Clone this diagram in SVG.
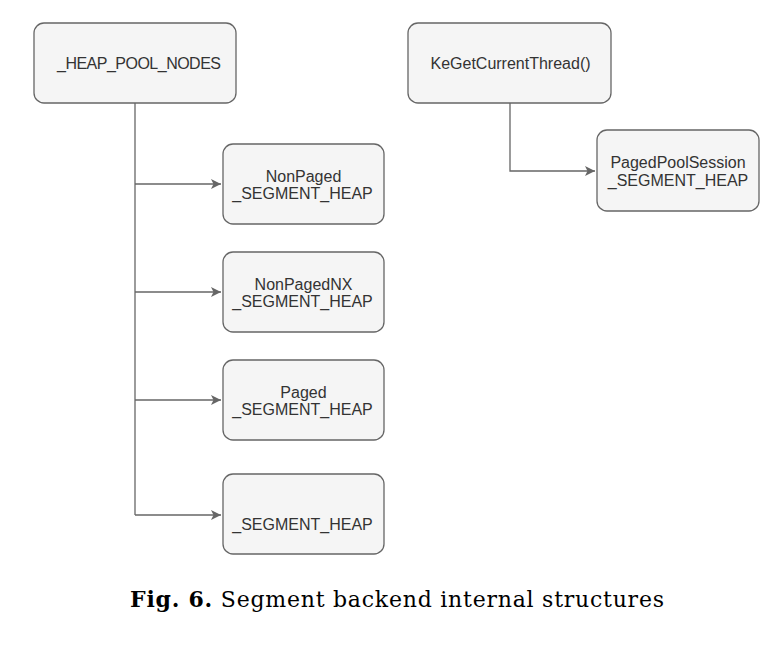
<svg xmlns="http://www.w3.org/2000/svg" width="781" height="660" viewBox="0 0 781 660">
<style>
.box{fill:#f5f5f5;stroke:#666;stroke-width:1.3}
.lbl{font-family:"Liberation Sans",Arial,sans-serif;font-size:16px;fill:#333;text-anchor:middle}
.con{fill:none;stroke:#666;stroke-width:1.3}
.cap{font-family:"DejaVu Serif","Liberation Serif",serif;font-size:22px;fill:#000}
</style>
<defs>
<marker id="ah" viewBox="0 0 10 10" refX="10" refY="5" markerWidth="10" markerHeight="10" markerUnits="userSpaceOnUse" orient="auto">
<path d="M0,0 L10,5 L0,10 L2.5,5 Z" fill="#666"/>
</marker>
</defs>
<rect width="781" height="660" fill="#fff"/>
<g id="connectors">
<path class="con" d="M135,103 V515"/>
<path class="con" d="M135,184 H221" marker-end="url(#ah)"/>
<path class="con" d="M135,292 H221" marker-end="url(#ah)"/>
<path class="con" d="M135,400 H221" marker-end="url(#ah)"/>
<path class="con" d="M135,515 H221" marker-end="url(#ah)"/>
<path class="con" d="M510,103 V171 H595" marker-end="url(#ah)"/>
</g>
<g id="heap_pool_nodes">
<rect class="box" x="34" y="23" width="202" height="80" rx="10"/>
<text class="lbl" x="139" y="69" textLength="164">_HEAP_POOL_NODES</text>
</g>
<g id="nonpaged">
<rect class="box" x="223" y="144" width="161" height="80" rx="10"/>
<text class="lbl" x="303.5" y="182">NonPaged</text>
<text class="lbl" x="302.5" y="199">_SEGMENT_HEAP</text>
</g>
<g id="nonpagednx">
<rect class="box" x="223" y="252" width="161" height="80" rx="10"/>
<text class="lbl" x="303.5" y="290">NonPagedNX</text>
<text class="lbl" x="302.5" y="307">_SEGMENT_HEAP</text>
</g>
<g id="paged">
<rect class="box" x="223" y="360" width="161" height="80" rx="10"/>
<text class="lbl" x="303.5" y="398">Paged</text>
<text class="lbl" x="302.5" y="415">_SEGMENT_HEAP</text>
</g>
<g id="segment_heap">
<rect class="box" x="223" y="474" width="161" height="80" rx="10"/>
<text class="lbl" x="302.5" y="530">_SEGMENT_HEAP</text>
</g>
<g id="kegetcurrentthread">
<rect class="box" x="408" y="23" width="203" height="80" rx="10"/>
<text class="lbl" x="510.5" y="69">KeGetCurrentThread()</text>
</g>
<g id="pagedpoolsession">
<rect class="box" x="597" y="130" width="162" height="81" rx="10"/>
<text class="lbl" x="678" y="168">PagedPoolSession</text>
<text class="lbl" x="678" y="186">_SEGMENT_HEAP</text>
</g>
<text class="cap" x="130" y="607" textLength="534"><tspan font-weight="bold">Fig. 6.</tspan> Segment backend internal structures</text>
</svg>
